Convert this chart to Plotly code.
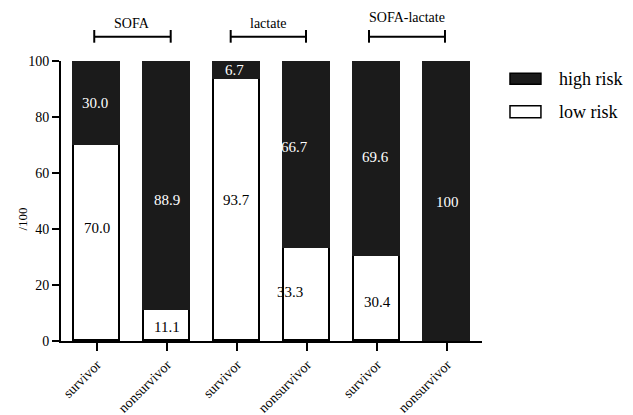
import plotly.graph_objects as go

groups = ["SOFA", "lactate", "SOFA-lactate"]
tick_labels = ["survivor", "nonsurvivor", "survivor", "nonsurvivor", "survivor", "nonsurvivor"]
low_risk = [70.0, 11.1, 93.7, 33.3, 30.4, 0]
high_risk = [30.0, 88.9, 6.7, 66.7, 69.6, 100]
low_labels = ["70.0", "11.1", "93.7", "33.3", "30.4", ""]
high_labels = ["30.0", "88.9", "6.7", "66.7", "69.6", "100"]
y_title = "/100"

# label placement (data units along y, pixel shift along x)
low_label_y = [40.4, 5.0, 50.4, 17.5, 13.9, None]
high_label_y = [85.0, 50.4, 96.8, 69.3, 65.7, 49.6]
low_xshift = [0, 0, 0, -17, 0, 0]
high_xshift = [-2, 0, -2, -12, -2, 0]

xpos = list(range(len(tick_labels)))
FONT = "Liberation Serif"
DARK = "#1b1b1b"

fig = go.Figure()
fig.add_bar(x=xpos, y=low_risk, name="low risk", width=0.66,
            marker=dict(color="white", line=dict(color="black", width=1.6)))
fig.add_bar(x=xpos, y=high_risk, name="high risk", width=0.66,
            marker=dict(color=DARK, line=dict(color=DARK, width=1.6)))

annotations = []
for i in xpos:
    if low_labels[i] and low_label_y[i] is not None:
        annotations.append(dict(x=i, y=low_label_y[i], text=low_labels[i], showarrow=False,
                                xshift=low_xshift[i], yanchor="middle",
                                font=dict(family=FONT, size=15, color="black")))
    if high_labels[i]:
        annotations.append(dict(x=i, y=high_label_y[i], text=high_labels[i], showarrow=False,
                                xshift=high_xshift[i], yanchor="middle",
                                font=dict(family=FONT, size=15, color="white")))

# group brackets (x in data units, y in paper units)
bracket_x = [(-0.039, 1.053), (1.91, 2.986), (3.886, 4.971)]
label_y = [1.1357, 1.1357, 1.1536]
shapes = []
for (x0, x1), g, ly in zip(bracket_x, groups, label_y):
    shapes.append(dict(type="line", xref="x", yref="paper", x0=x0, x1=x1, y0=1.0868, y1=1.0868,
                       line=dict(color="black", width=2)))
    for xx in (x0, x1):
        shapes.append(dict(type="line", xref="x", yref="paper", x0=xx, x1=xx, y0=1.0654, y1=1.1107,
                           line=dict(color="black", width=2)))
    annotations.append(dict(x=(x0 + x1) / 2, y=ly, xref="x", yref="paper", text=g, showarrow=False,
                            xanchor="center", yanchor="middle",
                            font=dict(family=FONT, size=14, color="black")))

# legend drawn manually
legend_items = [("high risk", DARK, 0.9168, 0.956, 0.9357),
                ("low risk", "white", 0.7975, 0.8404, 0.8179)]
for name, col, y0, y1, yt in legend_items:
    shapes.append(dict(type="rect", xref="paper", yref="paper", x0=1.0665, x1=1.140,
                       y0=y0, y1=y1, fillcolor=col, line=dict(color="black", width=1.5)))
    annotations.append(dict(x=1.178, y=yt, xref="paper", yref="paper", text=name, showarrow=False,
                            xanchor="left", yanchor="middle",
                            font=dict(family=FONT, size=18, color="black")))

# y-axis title
annotations.append(dict(x=-0.091, y=0.436, xref="paper", yref="paper", text=y_title, showarrow=False,
                        textangle=-90, xanchor="center", yanchor="middle",
                        font=dict(family=FONT, size=13, color="black")))

# the page adds an 8px body margin, so the figure is 8px smaller than the window
fig.update_layout(
    barmode="stack",
    width=625, height=407,
    margin=dict(l=53, r=151, t=53, b=74),
    paper_bgcolor="white", plot_bgcolor="white",
    showlegend=False,
    font=dict(family=FONT, size=13, color="black"),
    annotations=annotations,
    shapes=shapes,
    bargap=0,
)
fig.update_xaxes(range=[-0.514, 5.5], tickvals=xpos, ticktext=tick_labels, tickangle=-45,
                 showline=True, linecolor="black", linewidth=2, ticks="outside", ticklen=8,
                 tickwidth=2, tickcolor="black", showgrid=False, zeroline=False, automargin=False,
                 tickfont=dict(family=FONT, size=14))
fig.update_yaxes(range=[0, 100], tickvals=[0, 20, 40, 60, 80, 100], showline=True,
                 linecolor="black", linewidth=2, ticks="outside", ticklen=7, tickwidth=2,
                 tickcolor="black", showgrid=False, zeroline=False, automargin=False,
                 tickfont=dict(family=FONT, size=14))

fig.write_html("out.html")
